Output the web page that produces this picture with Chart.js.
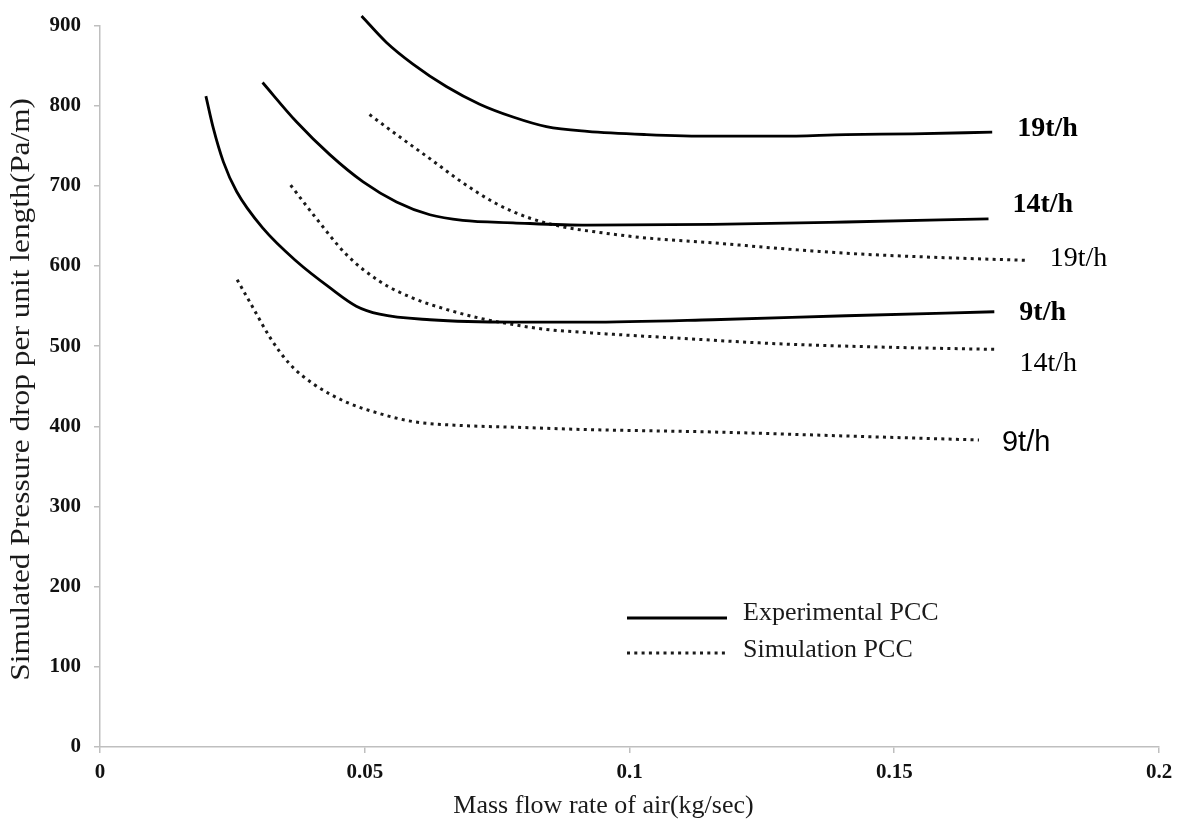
<!DOCTYPE html>
<html>
<head>
<meta charset="utf-8">
<script src="https://cdn.jsdelivr.net/npm/chart.js@4/dist/chart.umd.min.js"></script>
<style>
  html, body { margin: 0; padding: 0; background: #ffffff; }
  #wrap { width: 1181px; height: 830px; position: relative; }
</style>
</head>
<body>
<div id="wrap"><canvas id="c" width="1181" height="830"></canvas></div>
<script>
// ---- Data ----
const exp19X = [0.0494, 0.0541, 0.0591, 0.0654, 0.0717, 0.078, 0.0843, 0.092, 0.1032, 0.1157, 0.1283, 0.1409, 0.1534, 0.1685];
const exp19Y = [912, 879, 852, 824, 802, 786, 774, 768, 764, 762, 762, 764, 765, 767];

const exp14X = [0.0307, 0.0371, 0.0434, 0.0497, 0.056, 0.0623, 0.0685, 0.078, 0.092, 0.1157, 0.1409, 0.1678];
const exp14Y = [829, 780, 739, 705, 680, 664, 657, 654, 651, 652, 655, 659];

const exp9X = [0.02, 0.0214, 0.0233, 0.0258, 0.0308, 0.0371, 0.0434, 0.0484, 0.0528, 0.0623, 0.078, 0.092, 0.1157, 0.1409, 0.1689];
const exp9Y = [812, 772, 730, 693, 647, 606, 573, 550, 540, 533, 530, 530, 533, 538, 543];

const sim19X = [0.0509, 0.056, 0.0623, 0.0685, 0.0748, 0.0811, 0.0874, 0.0943, 0.1032, 0.1157, 0.1283, 0.1409, 0.1534, 0.1752];
const sim19Y = [789, 764, 734, 704, 678, 660, 649, 642, 635, 629, 622, 616, 612, 607];

const sim14X = [0.036, 0.0403, 0.0466, 0.0528, 0.0591, 0.0654, 0.0717, 0.078, 0.0843, 0.092, 0.1094, 0.1283, 0.1472, 0.1695];
const sim14Y = [701, 664, 614, 581, 560, 546, 535, 527, 521, 517, 510, 503, 499, 496];

const sim9X = [0.0259, 0.0289, 0.0321, 0.0358, 0.0403, 0.0466, 0.0528, 0.0591, 0.0685, 0.078, 0.092, 0.1157, 0.1409, 0.166];
const sim9Y = [583, 548, 511, 478, 453, 430, 416, 406, 401, 399, 396, 393, 388, 383];

const seriesNames = ['19t/h', '14t/h', '9t/h', '19t/h', '14t/h', '9t/h'];
const legendNames = ['Experimental PCC', 'Simulation PCC'];
const xTickMin = 0, xTickMax = 0.2, xTickStep = 0.05;
const yTickMin = 0, yTickMax = 900, yTickStep = 100;
const xTitle = 'Mass flow rate of air(kg/sec)';
const yTitle = 'Simulated Pressure drop per unit length(Pa/m)';

// ---- Build datasets ----
function pts(xs, ys) { return xs.map((x, i) => ({ x: x, y: ys[i] })); }
const SERIF = '"Liberation Serif", "Times New Roman", serif';
const SANS = '"Liberation Sans", Arial, sans-serif';

const solid = { borderColor: '#000000', borderWidth: 2.8, borderDash: [] };
const dotted = { borderColor: '#1a1a1a', borderWidth: 3, borderDash: [3, 4.3] };

// label styles / offsets (pixels from the series' last point)
const labelStyle = [
  { font: 'bold 28px ' + SERIF, dx: 25, dy: -3 },
  { font: 'bold 28px ' + SERIF, dx: 24, dy: -14 },
  { font: 'bold 28px ' + SERIF, dx: 25, dy: 1 },
  { font: '28px ' + SERIF, dx: 22, dy: -2 },
  { font: '28px ' + SERIF, dx: 22, dy: 14 },
  { font: '29px ' + SANS, dx: 23, dy: 3 }
];

const seriesData = [
  pts(exp19X, exp19Y), pts(exp14X, exp14Y), pts(exp9X, exp9Y),
  pts(sim19X, sim19Y), pts(sim14X, sim14Y), pts(sim9X, sim9Y)
];

const datasets = seriesData.map((d, i) => Object.assign({
  label: seriesNames[i],
  data: d,
  pointRadius: 0,
  pointHoverRadius: 0,
  fill: false,
  cubicInterpolationMode: 'monotone',
  clip: false
}, i < 3 ? solid : dotted));

const annotPlugin = {
  id: 'annot',
  afterDatasetsDraw(chart) {
    const ctx = chart.ctx;
    const ca = chart.chartArea;
    ctx.save();
    ctx.fillStyle = '#000000';
    ctx.textBaseline = 'middle';
    ctx.textAlign = 'left';
    chart.data.datasets.forEach((ds, i) => {
      const meta = chart.getDatasetMeta(i);
      const last = meta.data[meta.data.length - 1];
      const st = labelStyle[i];
      ctx.font = st.font;
      ctx.fillText(ds.label, last.x + st.dx, last.y + st.dy);
    });
    // legend
    const lx = ca.left + 527, lw = 100;
    const rows = [
      { y: 618, style: solid },
      { y: 653, style: dotted }
    ];
    rows.forEach((r, k) => {
      ctx.beginPath();
      ctx.lineWidth = r.style.borderWidth;
      ctx.strokeStyle = r.style.borderColor;
      ctx.setLineDash(r.style.borderDash);
      ctx.moveTo(lx, r.y);
      ctx.lineTo(lx + lw, r.y);
      ctx.stroke();
      ctx.setLineDash([]);
      ctx.font = '26px ' + SERIF;
      ctx.fillStyle = '#1a1a1a';
      ctx.fillText(legendNames[k], lx + 116, r.y - 5 + k * 2);
    });
    // axis titles
    ctx.fillStyle = '#1a1a1a';
    ctx.textAlign = 'center';
    ctx.textBaseline = 'middle';
    ctx.font = '26px ' + SERIF;
    ctx.fillText(xTitle, (ca.left + ca.right) / 2 - 26, 806);
    ctx.save();
    ctx.translate(22, (ca.top + ca.bottom) / 2 + 3);
    ctx.rotate(-Math.PI / 2);
    ctx.scale(1.12, 1);
    ctx.font = '28px ' + SERIF;
    ctx.fillText(yTitle, 0, 0);
    ctx.restore();
    ctx.restore();
  }
};

const axisColor = '#bfbfbf';

new Chart(document.getElementById('c'), {
  type: 'line',
  data: { datasets: datasets },
  options: {
    responsive: false,
    animation: false,
    events: [],
    layout: { padding: { top: 23, right: 22, left: 0, bottom: 0 } },
    plugins: {
      legend: { display: false },
      tooltip: { enabled: false },
      title: { display: false }
    },
    scales: {
      x: {
        type: 'linear',
        min: xTickMin,
        max: xTickMax,
        afterFit(scale) { scale.height = 83; },
        border: { display: true, color: axisColor, width: 1.5 },
        grid: { display: true, drawOnChartArea: false, drawTicks: true, tickLength: 6, color: axisColor, lineWidth: 1.5 },
        ticks: {
          stepSize: xTickStep,
          padding: 7,
          color: '#111111',
          font: { family: SERIF, size: 21, weight: 'bold' },
          maxRotation: 0,
          callback: (v) => String(+v.toFixed(2))
        },
        title: { display: false }
      },
      y: {
        type: 'linear',
        min: yTickMin,
        max: yTickMax,
        afterFit(scale) { scale.width = 100; },
        border: { display: true, color: axisColor, width: 1.5 },
        grid: { display: true, drawOnChartArea: false, drawTicks: true, tickLength: 6, color: axisColor, lineWidth: 1.5 },
        ticks: {
          stepSize: yTickStep,
          padding: 13,
          color: '#111111',
          font: { family: SERIF, size: 21, weight: 'bold' }
        },
        title: { display: false }
      }
    }
  },
  plugins: [annotPlugin]
});
</script>
</body>
</html>
